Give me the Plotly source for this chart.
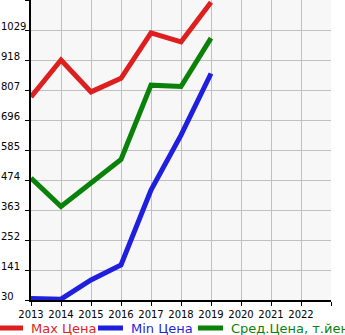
import plotly.graph_objects as go

years = [2013, 2014, 2015, 2016, 2017, 2018, 2019]
max_price = [781, 918, 800, 850, 1018, 985, 1132]
min_price = [36, 33, 104, 160, 437, 640, 868]
avg_price = [481, 376, 463, 550, 825, 820, 999]

x_ticks = [2013, 2014, 2015, 2016, 2017, 2018, 2019, 2020, 2021, 2022, 2023]
x_labels = ["2013", "2014", "2015", "2016", "2017", "2018", "2019", "2020", "2021", "2022", ""]
y_ticks = [30, 141, 252, 363, 474, 585, 696, 807, 918, 1029, 1140]
y_labels = ["30", "141", "252", "363", "474", "585", "696", "807", "918", "1029", ""]

names = ["Max Цена", "Min Цена", "Сред.Цена, т.йен"]
colors = ["#dd1f1f", "#1f1fdd", "#0a820a"]
series = [max_price, min_price, avg_price]

W, H = 345, 335
L, R, T, B = 31, 14, 0, 35
pw = W - L - R

fig = go.Figure()
for s, c, n in zip(series, colors, names):
    fig.add_trace(go.Scatter(x=years, y=s, mode="lines", name=n,
                             line=dict(color=c, width=5), showlegend=False,
                             cliponaxis=False))

font = "DejaVu Sans, Verdana, sans-serif"
annotations = []
for v, t in zip(y_ticks, y_labels):
    if t:
        annotations.append(dict(x=-L / pw, xref="paper", y=v, yref="y", text=t,
                                showarrow=False, xanchor="left", yanchor="middle",
                                xshift=-1, yshift=4,
                                font=dict(family=font, size=10, color="#000")))

shapes = []
leg_y = -28 / (H - T - B)
leg_items = [(-3, 23, 31), (98, 123, 131), (198, 223, 231)]
for (x0, x1, tx), c, n in zip(leg_items, colors, names):
    shapes.append(dict(type="line", xref="paper", yref="paper",
                       x0=(x0 - L) / pw, x1=(x1 - L) / pw, y0=leg_y, y1=leg_y,
                       line=dict(color=c, width=5)))
    annotations.append(dict(x=(tx - L) / pw, xref="paper", y=leg_y, yref="paper",
                            text=n, showarrow=False, xanchor="left", yanchor="middle",
                            xshift=-2,
                            font=dict(family=font, size=13, color=c)))

fig.update_layout(
    width=W, height=H,
    margin=dict(l=L, r=R, t=T, b=B),
    paper_bgcolor="#ffffff", plot_bgcolor="#f7f7f7",
    annotations=annotations, shapes=shapes,
    xaxis=dict(range=[2013, 2023], tickvals=x_ticks, ticktext=x_labels,
               showgrid=True, gridcolor="#c0c0c0", gridwidth=1,
               showline=True, linecolor="#000", linewidth=2,
               ticks="outside", ticklen=4, tickcolor="#000",
               tickfont=dict(family=font, size=10, color="#000"), zeroline=False),
    yaxis=dict(range=[30, 1140], tickvals=y_ticks, showticklabels=False,
               showgrid=True, gridcolor="#c0c0c0", gridwidth=1,
               showline=True, linecolor="#000", linewidth=2,
               ticks="outside", ticklen=4, tickcolor="#000", zeroline=False),
)

fig.write_html("out.html")
